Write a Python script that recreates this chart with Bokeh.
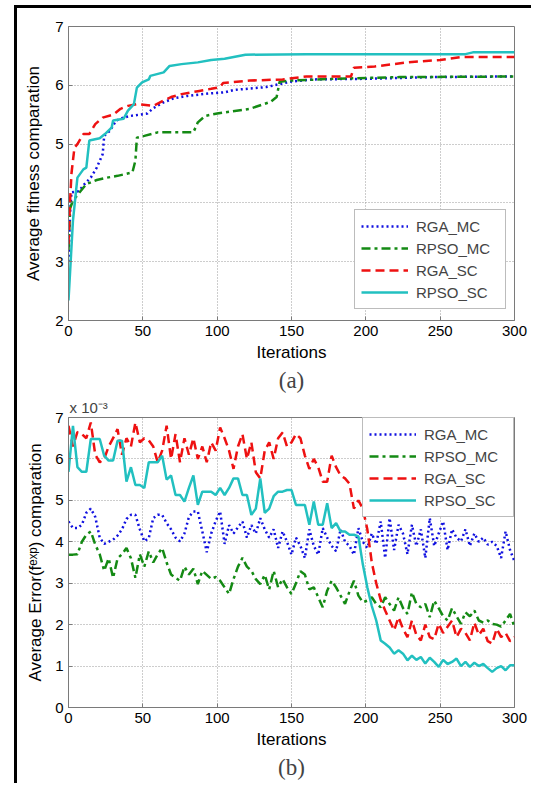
from bokeh.plotting import figure
from bokeh.models import Range1d, Legend, LegendItem, Title, FixedTicker
from bokeh.layouts import column
from bokeh.embed import file_html
from bokeh.resources import INLINE

# ---------------- data ----------------
series_names = ["RGA_MC", "RPSO_MC", "RGA_SC", "RPSO_SC"]
iter_ticks = [0, 50, 100, 150, 200, 250, 300]
fit_ticks = [2, 3, 4, 5, 6, 7]
err_ticks = [0, 1, 2, 3, 4, 5, 6, 7]

# (a) average fitness
fit_rga_mc_x = [0, 1, 2, 7, 10, 15, 19, 23, 24, 28, 32, 37, 42, 53, 57, 64, 71, 80, 94, 105, 111, 133, 149, 164, 200, 245, 300]
fit_rga_mc_y = [3.0, 3.8, 4.18, 4.2, 4.3, 4.43, 4.6, 4.83, 5.14, 5.23, 5.4, 5.45, 5.48, 5.52, 5.61, 5.71, 5.78, 5.82, 5.86, 5.88, 5.92, 5.97, 6.06, 6.1, 6.11, 6.14, 6.15]

fit_rpso_mc_x = [0, 1, 3, 7.5, 12, 19, 26, 33, 43, 45, 46, 51, 60, 73, 84, 87, 92, 100, 122, 136, 140, 142, 149, 178, 223, 300]
fit_rpso_mc_y = [3.2, 3.9, 4.04, 4.18, 4.32, 4.39, 4.43, 4.46, 4.52, 4.72, 5.11, 5.14, 5.2, 5.2, 5.2, 5.37, 5.48, 5.52, 5.6, 5.72, 5.8, 6.06, 6.08, 6.11, 6.14, 6.15]

fit_rga_sc_x = [0, 1, 2, 4, 6, 10, 14, 18, 23, 30, 35, 40, 46, 57, 64, 69, 76, 87, 96, 102, 104, 122, 144, 160, 190, 192, 206, 228, 250, 264, 300]
fit_rga_sc_y = [3.3, 4.0, 4.5, 4.94, 5.0, 5.17, 5.17, 5.34, 5.45, 5.5, 5.6, 5.65, 5.68, 5.65, 5.74, 5.8, 5.85, 5.9, 5.94, 5.97, 6.04, 6.08, 6.1, 6.15, 6.15, 6.3, 6.32, 6.39, 6.43, 6.48, 6.48]

fit_rpso_sc_x = [0, 3, 6, 10, 12, 14, 21, 24.5, 29, 30, 37, 40, 44, 46, 49.5, 54, 55, 64, 68, 76, 87, 96, 105, 119, 160, 267, 272, 300]
fit_rpso_sc_y = [2.34, 3.7, 4.43, 4.57, 4.6, 5.06, 5.1, 5.17, 5.28, 5.4, 5.43, 5.57, 5.68, 5.96, 6.05, 6.1, 6.16, 6.22, 6.33, 6.36, 6.39, 6.43, 6.45, 6.52, 6.53, 6.53, 6.56, 6.56]

# (b) average error, in units of 1e-3, sampled every 3 iterations
err_iters = list(range(0, 301, 3))
err_rga_mc = [4.49, 4.33, 4.33, 4.41, 4.7, 4.8, 4.6, 4.1, 3.95, 4.0,
              4.05, 4.15, 4.3, 4.55, 4.65, 4.65, 4.3, 4.01, 4.09, 4.57,
              4.65, 4.65, 4.45, 4.3, 4.1, 4.01, 4.2, 4.6, 4.73, 4.73,
              4.25, 3.75, 4.2, 4.5, 4.73, 3.95, 4.4, 4.2, 4.35, 4.49,
              4.1, 4.4, 4.2, 4.57, 4.3, 4.1, 4.3, 3.85, 4.25, 4.0,
              3.69, 4.1, 3.9, 3.61, 4.3, 3.9, 3.69, 4.33, 4.1, 3.9,
              3.77, 4.3, 4.0, 3.9, 3.69, 4.33, 4.0, 3.85, 4.2, 3.95,
              4.49, 3.61, 4.57, 3.8, 4.41, 4.2, 3.7, 4.41, 3.9, 4.3,
              3.61, 4.57, 3.9, 4.2, 4.49, 3.8, 4.3, 4.1, 4.01, 4.3,
              3.9, 4.2, 4.0, 4.1, 3.93, 4.0, 3.9, 3.61, 4.25, 3.8,
              3.53]
err_rpso_mc = [3.69, 3.69, 3.7, 4.0, 4.17, 4.25, 3.93, 3.7, 3.3, 3.6,
               3.13, 3.6, 3.7, 3.85, 3.6, 3.13, 3.7, 3.4, 3.77, 3.5,
               3.7, 3.85, 3.5, 3.21, 3.13, 3.06, 3.4, 3.21, 3.35, 2.98,
               3.3, 3.2, 3.1, 3.15, 3.06, 2.9, 2.74, 3.1, 3.4, 3.61,
               3.4, 3.3, 3.1, 2.98, 3.2, 2.85, 3.3, 2.9, 3.1, 2.9,
               2.74, 3.0, 3.29, 3.21, 2.85, 2.9, 2.66, 2.42, 2.82, 3.06,
               2.9, 2.7, 2.5, 2.8, 3.06, 2.7, 2.54, 2.58, 2.66, 2.5,
               2.42, 2.66, 2.5, 2.34, 2.66, 2.4, 2.26, 2.78, 2.5, 2.42,
               2.5, 2.18, 2.58, 2.4, 2.2, 2.1, 2.4, 2.2, 2.02, 2.3,
               2.2, 2.34, 2.1, 2.05, 2.1, 2.02, 2.0, 1.95, 2.1, 2.26,
               1.94]
err_rga_sc = [6.8, 6.3, 6.65, 6.6, 6.5, 6.88, 6.1, 5.92, 6.0, 6.3,
              6.5, 6.72, 6.1, 6.5, 6.3, 6.88, 6.4, 6.5, 6.45, 6.3,
              5.92, 6.2, 6.8, 6.0, 6.6, 5.92, 6.5, 6.1, 6.5, 6.0,
              6.3, 5.92, 6.4, 6.2, 6.76, 6.5, 6.2, 5.76, 6.3, 6.6,
              6.0, 6.4, 5.68, 5.53, 6.2, 6.4, 6.0, 6.5, 6.64, 6.3,
              6.4, 6.6, 6.5, 6.08, 5.76, 6.0, 5.8, 5.45, 5.45, 6.08,
              5.8, 5.6, 5.53, 5.4, 4.8, 5.0, 4.8, 4.3, 3.5, 3.0,
              2.6, 2.34, 2.1, 1.86, 2.18, 1.9, 1.7, 2.1, 1.75, 1.62,
              2.0, 1.7, 1.65, 2.02, 1.8, 1.95, 2.1, 1.7, 1.9, 1.8,
              1.62, 2.05, 1.75, 1.9, 1.6, 1.54, 1.9, 1.7, 1.8, 1.6,
              1.7]
err_rpso_sc = [5.69, 6.8, 5.8, 5.69, 5.69, 6.48, 6.48, 6.48, 6.08, 5.96,
               5.96, 6.44, 6.44, 5.45, 5.8, 5.37, 5.37, 5.3, 5.92, 5.92,
               5.92, 6.08, 5.5, 5.6, 5.13, 5.13, 4.97, 5.3, 5.6, 4.89,
               5.21, 5.21, 5.21, 5.13, 5.3, 5.13, 5.3, 5.53, 5.53, 5.13,
               5.13, 4.65, 4.8, 5.53, 4.7, 4.8, 5.1, 5.21, 5.21, 5.25,
               5.25, 4.89, 4.89, 4.89, 4.41, 4.97, 4.41, 4.41, 4.93, 4.33,
               4.45, 4.25, 4.25, 4.17, 4.17, 4.13, 3.45, 2.9, 2.45, 2.1,
               1.62, 1.54, 1.45, 1.3, 1.38, 1.3, 1.14, 1.25, 1.15, 1.22,
               1.06, 1.2, 1.1, 0.98, 1.15, 1.05, 1.1, 1.18, 1.0, 1.1,
               0.98, 1.08, 1.0, 1.05, 0.95, 0.86, 0.95, 1.0, 0.9, 1.02,
               1.02]

# ---------------- styles ----------------
colors = ["#1010e0", "#148a14", "#ee1111", "#22c0c0"]
dashes = ["2 3", "9 4 3 4", "9 5", "solid"]
LW = 2.5
SANS = "Liberation Sans"
SERIF = "Liberation Serif"
AX_GRAY = "#7a7a7a"


def style_axes(p, yticks, ylabel, ylabel_standoff):
    p.xaxis.ticker = FixedTicker(ticks=iter_ticks)
    p.yaxis.ticker = FixedTicker(ticks=yticks)
    p.xaxis.axis_label = "Iterations"
    p.yaxis.axis_label = ylabel
    for ax in (p.xaxis[0], p.yaxis[0]):
        ax.axis_line_color = AX_GRAY
        ax.major_tick_line_color = AX_GRAY
        ax.major_tick_in = 4
        ax.major_tick_out = 0
        ax.minor_tick_line_color = None
        ax.major_label_text_font = SANS
        ax.major_label_text_font_size = "15px"
        ax.major_label_text_color = "black"
        ax.major_label_standoff = 5
        ax.axis_label_text_font = SANS
        ax.axis_label_text_font_size = "17px"
        ax.axis_label_text_font_style = "normal"
        ax.axis_label_text_color = "black"
    p.xaxis[0].axis_label_standoff = 4
    p.yaxis[0].axis_label_standoff = ylabel_standoff
    for g in (p.xgrid[0], p.ygrid[0]):
        g.grid_line_color = "#9a9a9a"
        g.grid_line_dash = "1 2"
        g.grid_line_width = 1
    p.outline_line_color = AX_GRAY
    p.outline_line_width = 1
    p.background_fill_color = "white"
    p.border_fill_color = "white"


def make_legend(p, renderers, **kw):
    items = [LegendItem(label=n, renderers=[r]) for n, r in zip(series_names, renderers)]
    leg = Legend(items=items, **kw)
    leg.label_text_font = SANS
    leg.label_text_font_size = "15px"
    leg.glyph_width = 47
    leg.glyph_height = 20
    leg.label_height = 20
    leg.label_width = 83
    leg.label_standoff = 8
    leg.spacing = 2
    leg.padding = 6
    leg.border_line_color = AX_GRAY
    leg.border_line_width = 1
    leg.background_fill_color = "white"
    leg.background_fill_alpha = 1
    p.add_layout(leg)


# ---------------- (a) ----------------
p1 = figure(width=514, height=386, output_backend="svg", toolbar_location=None,
            x_range=Range1d(0, 300), y_range=Range1d(2, 7), title=None,
            min_border_left=50, min_border_right=16, min_border_top=18, min_border_bottom=74)
style_axes(p1, fit_ticks, "Average fitness comparation", 9)

fit_x = [fit_rga_mc_x, fit_rpso_mc_x, fit_rga_sc_x, fit_rpso_sc_x]
fit_y = [fit_rga_mc_y, fit_rpso_mc_y, fit_rga_sc_y, fit_rpso_sc_y]
r1 = []
for xs, ys, c, d in zip(fit_x, fit_y, colors, dashes):
    r1.append(p1.line(xs, ys, line_color=c, line_width=LW, line_dash=d))
make_legend(p1, r1, location=(286, 11))
p1.add_layout(Title(text="(a)", align="center", text_font=SERIF, text_font_size="23px",
                    text_font_style="normal", standoff=3), "below")

# ---------------- (b) ----------------
p2 = figure(width=514, height=389, output_backend="svg", toolbar_location=None,
            x_range=Range1d(0, 300), y_range=Range1d(0, 7),
            min_border_left=51, min_border_right=17, min_border_top=19, min_border_bottom=76)
p2.title = Title(text="x 10\u207b\u00b3", align="left", text_font=SANS, text_font_size="15px",
                 text_font_style="normal", offset=1, standoff=4)
style_axes(p2, err_ticks, "Average Error(f\u1d49\u02e3\u1d56) comparation", 7)

err_y = [err_rga_mc, err_rpso_mc, err_rga_sc, err_rpso_sc]
r2 = []
for ys, c, d in zip(err_y, colors, dashes):
    r2.append(p2.line(err_iters, ys, line_color=c, line_width=LW, line_dash=d))
make_legend(p2, r2, location="top_right", margin=0)
p2.add_layout(Title(text="(b)", align="center", text_font=SERIF, text_font_size="23px",
                    text_font_style="normal", standoff=3), "below")

layout = column(p1, p2, margin=(5, 0, 0, 14),
                styles={"border-left": "3px solid black", "border-top": "3px solid black"})

open("out.html", "w").write(file_html(layout, INLINE))
